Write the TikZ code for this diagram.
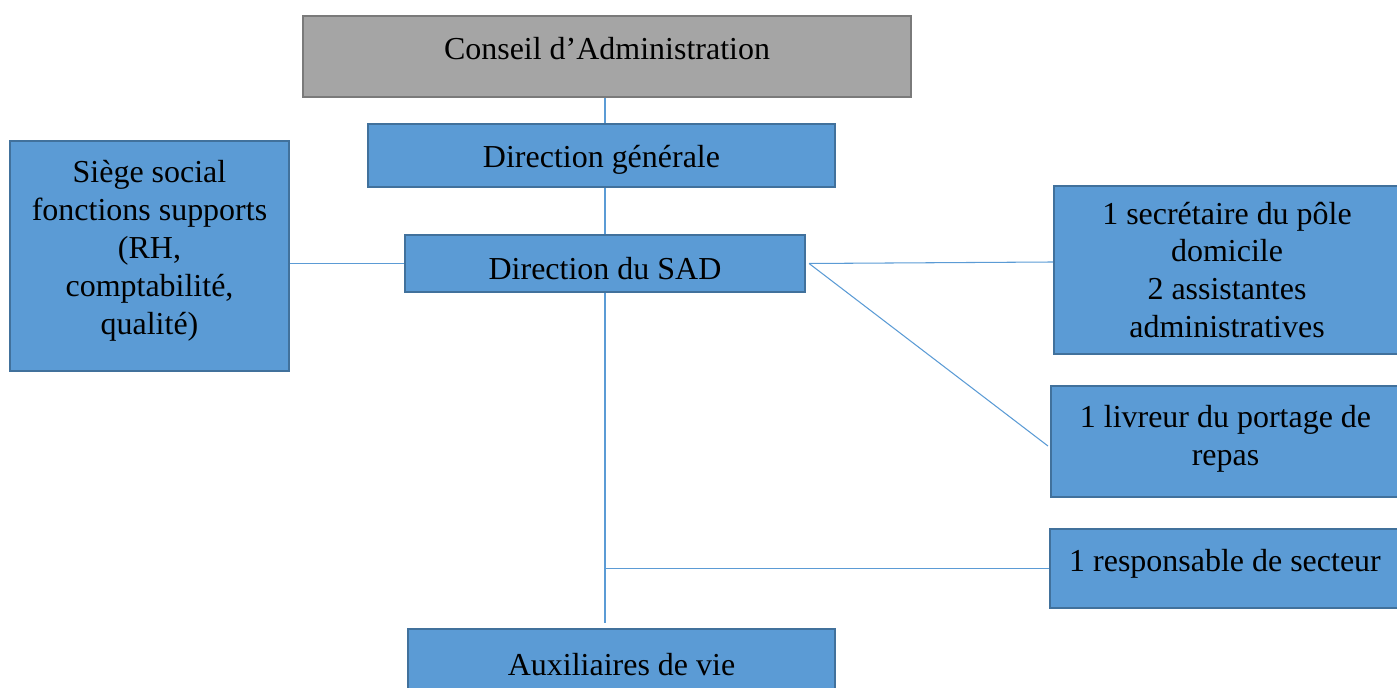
\documentclass[tikz,border=0pt]{standalone}
\usepackage{fontspec}
\setmainfont{Liberation Serif}
\usepackage{xcolor}
\usepackage{tikz}
\usetikzlibrary{positioning, calc}

\definecolor{bleubloc}{HTML}{5B9BD5}
\definecolor{bordbleu}{HTML}{41719C}
\definecolor{grisbloc}{HTML}{A5A5A5}
\definecolor{bordgris}{HTML}{7A7A7A}

\begin{document}
\begin{tikzpicture}[x=0.02cm, y=-0.02cm,
    font=\fontsize{18.2}{21.6}\selectfont,
    bloc/.style={rectangle, draw=bordbleu, fill=bleubloc, line width=1.2pt, align=center, inner sep=0pt},
    blocgris/.style={bloc, draw=bordgris, fill=grisbloc},
    lien/.style={draw=bleubloc, line width=0.6pt}]
    \useasboundingbox (0,0) rectangle (1397,688);
    \clip (0,0) rectangle (1397,688);

    \node[blocgris, minimum width=608*0.02cm, minimum height=81*0.02cm, text depth=0.32cm] (conseil) at (607,56.5) {Conseil d’Administration};
    \node[bloc, minimum width=467*0.02cm, minimum height=63*0.02cm, text height=0.6cm] (dg) at (601.5,155.5) {Direction générale};
    \node[bloc, minimum width=400*0.02cm, minimum height=57*0.02cm, text height=0.64cm] (sad) at (605,263.5) {Direction du SAD};
    \node[bloc, minimum width=279*0.02cm, minimum height=230*0.02cm] (siege) at (149.5,256)
        {Siège social\\fonctions supports\\(RH,\\comptabilité,\\qualité)\rule[-0.36cm]{0pt}{0pt}};
    \node[bloc, minimum width=346*0.02cm, minimum height=168*0.02cm] (secr) at (1227,270)
        {1 secrétaire du pôle\\domicile\\2 assistantes\\administratives};
    \node[bloc, minimum width=349*0.02cm, minimum height=111*0.02cm] (livreur) at (1225.5,441.5)
        {1 livreur du portage de\\repas\rule[-0.26cm]{0pt}{0pt}};
    \node[bloc, minimum width=350*0.02cm, minimum height=79*0.02cm, text depth=0.32cm] (resp) at (1225,568.5) {1 responsable de secteur};
    \node[bloc, minimum width=427*0.02cm, minimum height=71*0.02cm] (aux) at (621.5,664.5) {Auxiliaires de vie};

    \coordinate (bas) at (605,623);

    \draw[lien] (conseil.south -| sad) -- (dg.north -| sad);
    \draw[lien] (dg.south -| sad) -- (sad.north);
    \draw[lien] (siege.east |- sad.west) -- (sad.west);
    \draw[lien] ([xshift=0.06cm]sad.east) -- ($(secr.west |- sad.east)+(0,-1.5)$);
    \draw[lien] ([xshift=0.06cm]sad.east) -- ([xshift=-0.04cm, yshift=-0.09cm]livreur.west);
    \draw[lien] (sad.south) -- (bas);
    \draw[lien] (sad.south |- resp.west) -- (resp.west); % vers le secteur
\end{tikzpicture}
\end{document}
